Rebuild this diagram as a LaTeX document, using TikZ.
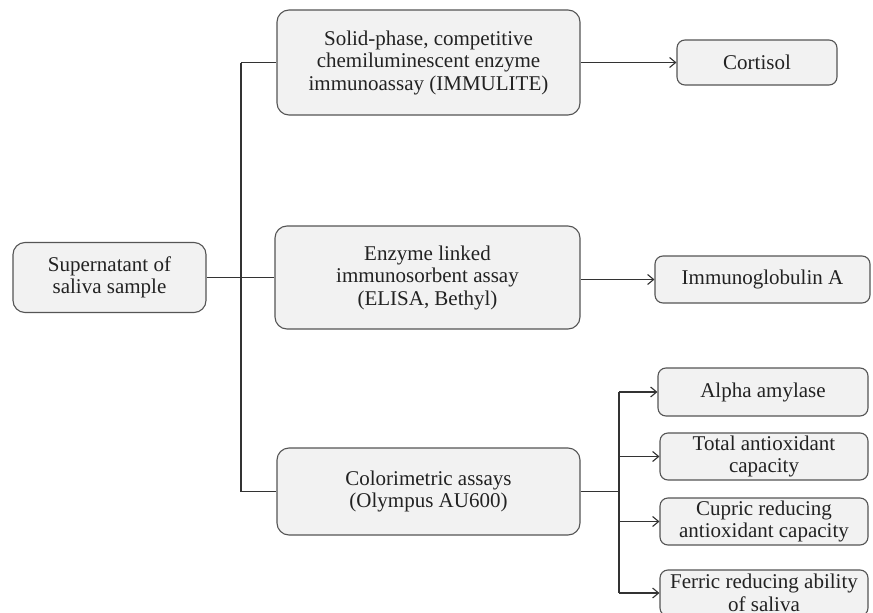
\documentclass[tikz,border=0pt]{standalone}
\usepackage{fontspec}
\setmainfont{Liberation Serif}
\usetikzlibrary{arrows.meta}
\definecolor{boxfill}{HTML}{F2F2F2}
\definecolor{boxdraw}{HTML}{555555}
\definecolor{linecol}{HTML}{333333}
\definecolor{textcol}{HTML}{222222}
\tikzset{
  box/.style={draw=boxdraw, fill=boxfill, line width=1.1pt, rounded corners=12pt,
    align=center, inner sep=0pt, text=textcol, font=\fontsize{21}{22.5}\selectfont},
  smallbox/.style={box, rounded corners=8pt},
  conn/.style={draw=linecol, line width=1.1pt},
  arr/.style={conn, -{Straight Barb[length=6pt,width=10pt]}}
}
\begin{document}
\begin{tikzpicture}[x=1pt,y=-1pt]
\useasboundingbox (0,0) rectangle (873,613);
\fill[white] (0,0) rectangle (873,613);
% main nodes
\node[box, minimum width=193pt, minimum height=70pt] (src) at (109.5,277.5) {Supernatant of\\saliva sample};
\node[box, minimum width=303pt, minimum height=105pt] (b1) at (428.5,62.5) {Solid-phase, competitive\\chemiluminescent enzyme\\immunoassay (IMMULITE)};
\node[box, minimum width=305pt, minimum height=103pt] (b2) at (427.5,277.5) {Enzyme linked\\immunosorbent assay\\(ELISA, Bethyl)};
\node[box, minimum width=303pt, minimum height=87pt] (b3) at (428.5,491.5) {Colorimetric assays\\(Olympus AU600)};
% result nodes
\node[smallbox, minimum width=160pt, minimum height=45pt] (cort) at (757,62.5) {Cortisol};
\node[smallbox, minimum width=215pt, minimum height=47pt] (iga) at (762.5,279.5) {Immunoglobulin A};
\node[smallbox, minimum width=210pt, minimum height=48pt] (alpha) at (763,392) {Alpha amylase};
\node[smallbox, minimum width=208pt, minimum height=47pt] (tac) at (764,456.5) {Total antioxidant\\capacity};
\node[smallbox, minimum width=208pt, minimum height=47pt] (cup) at (764,521.5) {Cupric reducing\\antioxidant capacity};
\node[smallbox, minimum width=208pt, minimum height=46pt] (fer) at (764,593) {Ferric reducing ability\\of saliva};
% trunk
\coordinate (t1) at (241,62.5);
\coordinate (t3) at (241,491.5);
\coordinate (t2) at (241,277.5);
\draw[conn] (t1) -- (t3);
\draw[conn] (t1) -- (b1.west);
\draw[conn] (t3) -- (b3.west);
\draw[conn] (src.east) -- (t2) -- (b2.west);
% first level arrows
\draw[arr] (b1.east) -- (cort.west);
\draw[arr] (b2.east |- iga.west) -- (iga.west);
% colorimetric branch
\coordinate (r0) at (619,491.5);
\coordinate (ra) at (619,392);
\coordinate (rf) at (619,593);
\draw[conn] (b3.east) -- (r0);
\draw[conn] (ra) -- (rf);
\draw[arr] (ra) -- (alpha.west);
\draw[arr] (ra |- tac.west) -- (tac.west);
\draw[arr] (ra |- cup.west) -- (cup.west);
\draw[arr] (rf) -- (fer.west);
\end{tikzpicture}
\end{document}
